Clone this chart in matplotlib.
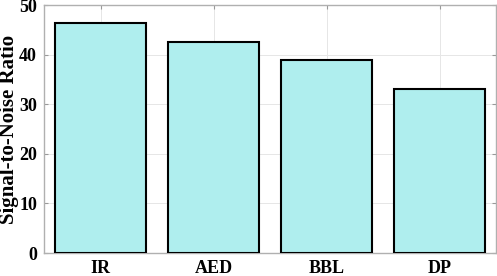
import matplotlib
matplotlib.use("Agg")
import matplotlib.pyplot as plt

categories = ["IR", "AED", "BBL", "DP"]
snr_values = [46.3, 42.5, 38.9, 33.1]
yticks = [0, 10, 20, 30, 40, 50]

plt.rcParams['font.family'] = ['Liberation Serif', 'DejaVu Serif']
plt.rcParams['font.weight'] = 'bold'

fig = plt.figure(figsize=(4.97, 2.76), dpi=100)
ax_w = 452
ax = fig.add_axes([44/497, 1 - 253/276, ax_w/497, 248/276])

x = list(range(1, len(categories) + 1))
ax.bar(x, snr_values, width=0.8, color='#AFEEEE', edgecolor='black', linewidth=1.5, zorder=3)
ax.set_xlim(0.5, len(categories) + 0.5)
ax.set_ylim(0, 50)
ax.set_yticks(yticks)
ax.set_xticks(x)
ax.set_xticklabels(categories)
ax.tick_params(direction='in', top=True, right=True, labelsize=13, color='#999999', length=3, pad=5)
ax.tick_params(axis='x', pad=5)
for lab in ax.get_xticklabels() + ax.get_yticklabels():
    lab.set_fontweight('bold')
ax.grid(True, color='#e6e6e6', linewidth=0.7, zorder=0)
ax.set_axisbelow(True)
for s in ax.spines.values():
    s.set_color('#b0b0b0')
    s.set_linewidth(1.0)
ax.set_ylabel("Signal-to-Noise Ratio", fontsize=15, fontweight='bold')
ax.yaxis.set_label_coords(-(44 - 19) / ax_w, 0.5)

fig.savefig("out.png", dpi=100)
